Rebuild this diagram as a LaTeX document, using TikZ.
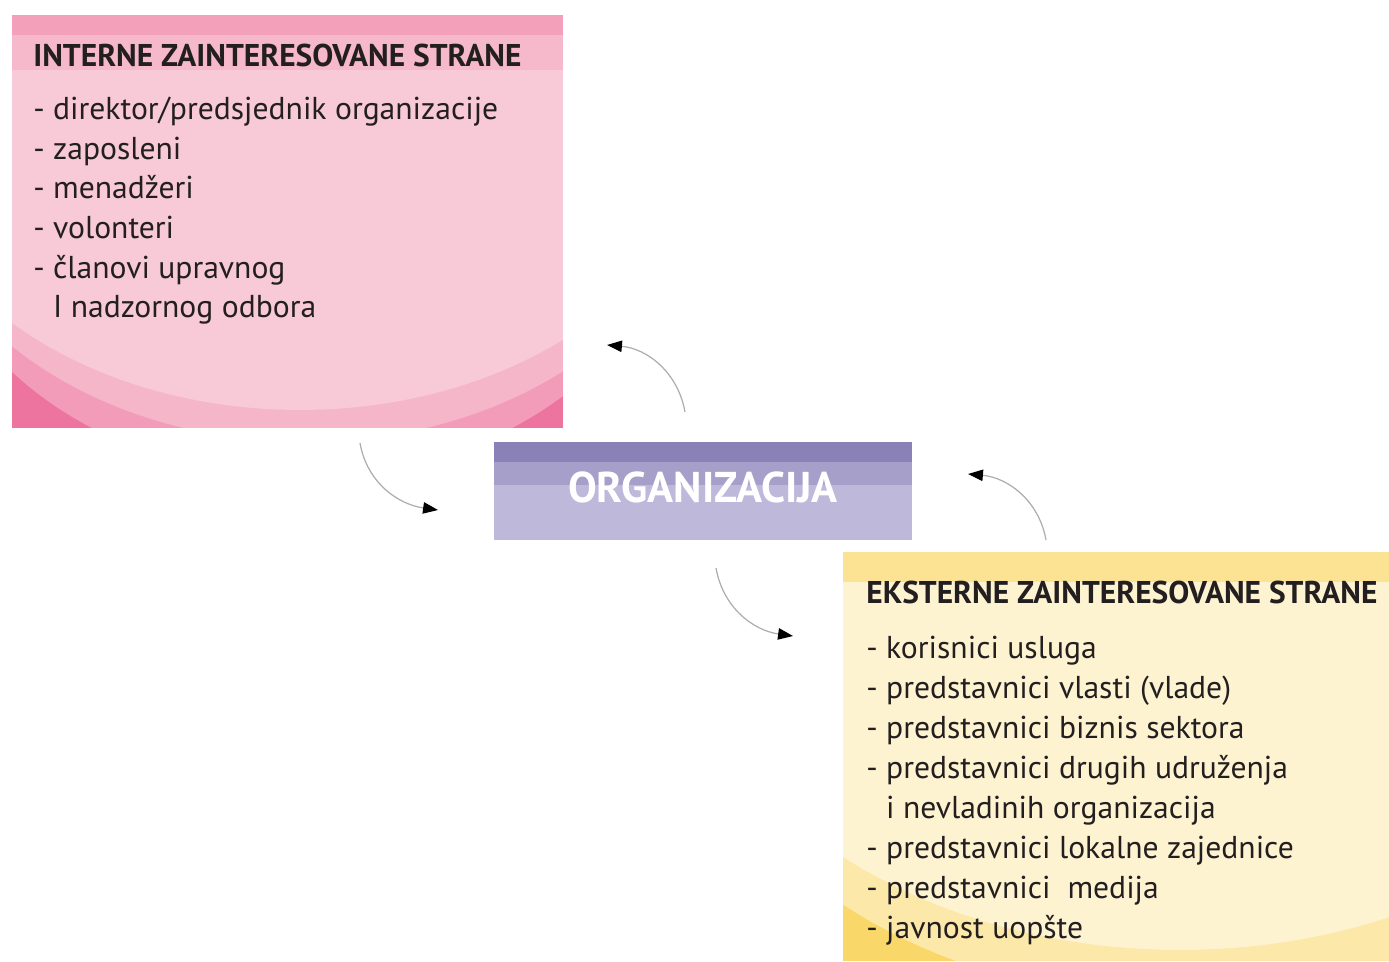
\documentclass[tikz,border=0pt]{standalone}
\usepackage{fontspec}
\setmainfont{PT Sans}
\usetikzlibrary{arrows.meta, positioning}
\definecolor{pDeep}{HTML}{EE74A0}
\definecolor{pDark}{HTML}{F39CBA}
\definecolor{pMid}{HTML}{F6B6CA}
\definecolor{pBody}{HTML}{F8C9D6}
\definecolor{pTop}{HTML}{F3A1BB}
\definecolor{pHead}{HTML}{F6B8CB}
\definecolor{oTop}{HTML}{8A82B6}
\definecolor{oMid}{HTML}{A69FCA}
\definecolor{oBody}{HTML}{BEB8DB}
\definecolor{yDeep}{HTML}{F9D769}
\definecolor{yMid}{HTML}{FCE8A8}
\definecolor{yBody}{HTML}{FEF3D0}
\definecolor{yTop}{HTML}{FCE393}
\definecolor{txtDark}{HTML}{231F20}

\begin{document}
\begin{tikzpicture}[x=0.02cm, y=-0.02cm,
    boxnode/.style={inner sep=0, outer sep=0},
    ttl/.style={anchor=base west, inner sep=0, font=\bfseries\fontsize{17.9}{20}\selectfont, text=txtDark},
    item/.style={anchor=base west, inner sep=0, font=\fontsize{18}{22}\selectfont, text=txtDark},
    orgtext/.style={anchor=base, inner sep=0, font=\bfseries\fontsize{24.5}{28}\selectfont, text=white},
    link/.style={draw=black!32, line width=0.7pt, -{Triangle[length=8.5pt, width=6.5pt, black]}}]
  \useasboundingbox (0,0) rectangle (1389,961);

  % the three boxes
  \node[boxnode, minimum width=11.02cm, minimum height=8.26cm] (intern) at (287.5,221.5) {};
  \node[boxnode, minimum width=8.36cm, minimum height=1.96cm] (org) at (703,491) {};
  \node[boxnode, minimum width=10.92cm, minimum height=8.18cm] (extern) at (1116,756.5) {};

  \begin{scope}
    \clip (intern.south west) rectangle (intern.north east);
    \fill[pDeep] (intern.south west) rectangle (intern.north east);
    \fill[pDark] (302,178) ellipse [x radius=7.6cm, y radius=6cm];
    \fill[pMid] (305,142) ellipse [x radius=8cm, y radius=6cm];
    \fill[pBody] (300,110) ellipse [x radius=8.18cm, y radius=6cm];
    \fill[pTop] (intern.north west) rectangle (563,35);
    \fill[pHead] (12,35) rectangle (563,70);
  \end{scope}

  \fill[oBody] (org.south west) rectangle (org.north east);
  \fill[oMid] (org.north west) rectangle (912,485);
  \fill[oTop] (org.north west) rectangle (912,462);

  \begin{scope}
    \clip (extern.south west) rectangle (extern.north east);
    \fill[yDeep] (extern.south west) rectangle (extern.north east);
    \fill[yMid] (1180,600) ellipse [x radius=10.4cm, y radius=8cm];
    \fill[yBody] (1180,560) ellipse [x radius=10.4cm, y radius=7.8cm];
    \fill[yTop] (extern.north west) rectangle (1389,582);
  \end{scope}

  % texts
  \node[ttl] (intTitle) at (33,66) {INTERNE ZAINTERESOVANE STRANE};
  \foreach \t [count=\i] in {- direktor/predsjednik organizacije, - zaposleni, - menadžeri,
      - volonteri, - članovi upravnog, \phantom{- }I nadzornog odbora}
    \node[item] (int\i) at (33,{80+39.6*\i}) {\t};

  \node[orgtext] (orgLabel) at (703,502) {ORGANIZACIJA};

  \node[ttl] (extTitle) at (866,603) {EKSTERNE ZAINTERESOVANE STRANE};
  \foreach \t [count=\i] in {- korisnici usluga, - predstavnici vlasti (vlade),
      - predstavnici biznis sektora, - predstavnici drugih udruženja,
      \phantom{- }i nevladinih organizacija, - predstavnici lokalne zajednice,
      - predstavnici\ \ medija, - javnost uopšte}
    \node[item] (ext\i) at (866,{618+40*\i}) {\t};

  % arrows
  \coordinate (upIntS) at (685,412);
  \coordinate (upIntE) at (607,345);
  \coordinate (downOrgS) at (360,443);
  \coordinate (downOrgE) at (438,510);
  \coordinate (downExtS) at (716,568);
  \coordinate (downExtE) at (793,636);
  \coordinate (upOrgS) at (1046,540);
  \coordinate (upOrgE) at (968,474);
  \draw[link] (upIntS) to[out=100, in=-5] (upIntE);
  \draw[link] (downOrgS) to[out=-80, in=172] (downOrgE);
  \draw[link] (downExtS) to[out=-80, in=172] (downExtE);
  \draw[link] (upOrgS) to[out=100, in=-5] (upOrgE);
\end{tikzpicture}
\end{document}
